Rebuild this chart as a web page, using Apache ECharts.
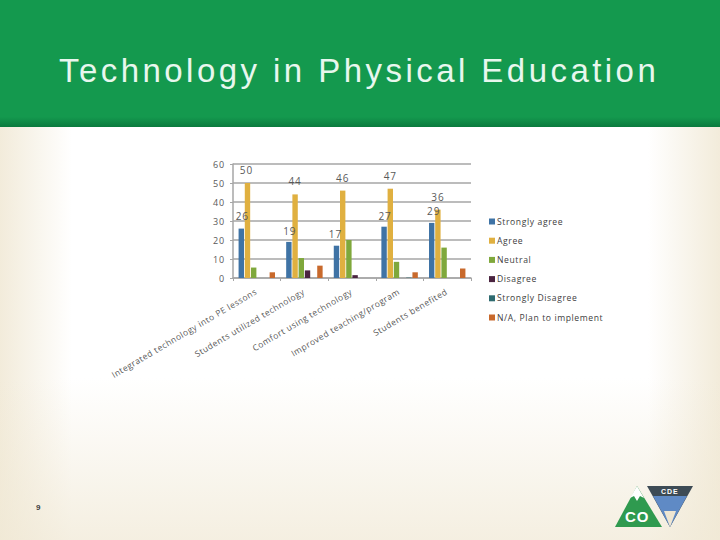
<!DOCTYPE html>
<html><head><meta charset="utf-8">
<style>html,body{margin:0;padding:0;background:#fff}#c{width:720px;height:540px}
#c text{letter-spacing:.9px}
#c text[style*="33px"]{letter-spacing:3.45px}
#c text[style*="8.5px"]{letter-spacing:.5px}
#c text[style*="8.6px"]{letter-spacing:.6px}
</style>
<script src="https://cdn.jsdelivr.net/npm/echarts@6/dist/echarts.min.js"></script></head>
<body><div id="c"></div>
<script>
const categories=["Integrated technology into PE lessons","Students utilized technology","Comfort using technology","Improved teaching/program","Students benefited"];
const stronglyAgree=[26,19,17,27,29];
const agree=[50,44,46,47,36];
const neutral=[5.5,10.5,20,8.5,16];
const disagree=[0,4,1.5,0,0];
const stronglyDisagree=[0,0,0,0.2,0];
const notApplicable=[3,6.5,0,3,5];
const labelOffsetsSA=[[1,-3],[1,-1],[-1,-2],[1,-1],[2,-2]];
const labelOffsetsA=[[-1,-3],[0,-3],[0,-3],[0,-3],[0,-3]];
const tc='#595959';
const grey='#a6a6a6';
function withLabels(vals,offs){return vals.map((v,i)=>({value:v,label:{show:true,position:'top',offset:offs[i],color:tc,fontSize:10}}));}
function s(name,data,color){return {name,type:'bar',data,barWidth:5.4,barGap:'15%',itemStyle:{color}};}
const fade=(x,y,x2,y2,stop,a)=>({type:'linear',x,y,x2,y2,colorStops:[{offset:0,color:`rgba(240,232,212,${a})`},{offset:stop,color:'rgba(240,232,212,0)'},{offset:1,color:'rgba(240,232,212,0)'}]});
const chart=echarts.init(document.getElementById('c'),null,{renderer:'svg',width:720,height:540});
chart.setOption({
 animation:false,
 textStyle:{fontFamily:'"Open Sans","Liberation Sans",sans-serif'},
 title:{text:'Technology in Physical Education',left:54,top:49,textStyle:{fontFamily:'"Liberation Sans",Arial,sans-serif',fontSize:33,fontWeight:'normal',color:'#e8f7ee'}},
 grid:{left:233,top:164,width:238,height:114},
 legend:{orient:'vertical',left:484,top:211,itemWidth:6,itemHeight:6,itemGap:8.2,icon:'rect',
  textStyle:{color:'#404040',fontSize:8.6,padding:[0,0,0,-3],lineHeight:11},selectedMode:false},
 xAxis:{type:'category',data:categories,
  axisLine:{lineStyle:{color:grey,width:1.5}},
  axisTick:{show:true,length:3,lineStyle:{color:grey,width:1}},
  axisLabel:{rotate:30.5,interval:0,color:tc,fontSize:8.5,margin:12,padding:[0,1,0,0]}},
 yAxis:{type:'value',min:0,max:60,interval:10,
  axisLine:{show:true,lineStyle:{color:grey,width:1.5}},
  axisTick:{show:true,length:3,lineStyle:{color:grey,width:1}},
  splitLine:{show:true,lineStyle:{color:grey,width:1.5}},
  axisLabel:{color:tc,fontSize:9,margin:8}},
 series:[
  s('Strongly agree',withLabels(stronglyAgree,labelOffsetsSA),'#3f73a5'),
  s('Agree',withLabels(agree,labelOffsetsA),'#e0b040'),
  s('Neutral',neutral,'#7fa83c'),
  s('Disagree',disagree,'#4a2440'),
  s('Strongly Disagree',stronglyDisagree,'#2f6b70'),
  s('N/A, Plan to implement',notApplicable,'#c8692c')
 ],
 graphic:[
  {type:'rect',z:-10,silent:true,shape:{x:0,y:0,width:720,height:540},style:{fill:'#ffffff'}},
  {type:'rect',z:-10,silent:true,shape:{x:0,y:0,width:720,height:540},style:{fill:fade(0,0,1,0,.1,.85)}},
  {type:'rect',z:-10,silent:true,shape:{x:0,y:0,width:720,height:540},style:{fill:fade(1,0,0,0,.1,.85)}},
  {type:'rect',z:-10,silent:true,shape:{x:0,y:0,width:720,height:540},style:{fill:fade(0,1,0,0,.3,.7)}},
  {type:'rect',z:-9,silent:true,shape:{x:0,y:0,width:720,height:127},style:{fill:{type:'linear',x:0,y:0,x2:0,y2:1,colorStops:[{offset:0,color:'#14994e'},{offset:.92,color:'#14994e'},{offset:1,color:'#0a7a3e'}]}}},
  {type:'text',z:5,silent:true,x:36,y:503,style:{text:'9',fill:'#404040',font:'bold 8px "Liberation Sans",sans-serif'}},
  {type:'polygon',z:5,silent:true,shape:{points:[[637,486],[662,527],[615,527]]},style:{fill:'#2f9a4f'}},
  {type:'polygon',z:6,silent:true,shape:{points:[[637,486],[644,498],[640,496],[637,501],[634,496],[630,498]]},style:{fill:'#ffffff'}},
  {type:'text',z:7,silent:true,x:625,y:509,style:{text:'CO',fill:'#fff',font:'bold 15px "Liberation Sans",sans-serif'}},
  {type:'polygon',z:5,silent:true,shape:{points:[[647,486],[693,486],[670,527]]},style:{fill:'#3d4b55'}},
  {type:'polygon',z:6,silent:true,shape:{points:[[653,496],[687,496],[670,527]]},style:{fill:'#5f8ac5'}},
  {type:'polygon',z:7,silent:true,shape:{points:[[664,511],[676,511],[670,527]]},style:{fill:'#efe6d2'}},
  {type:'text',z:7,silent:true,x:661,y:488,style:{text:'CDE',fill:'#fff',font:'bold 7px "Liberation Sans",sans-serif'}}
 ]
});
</script></body></html>
